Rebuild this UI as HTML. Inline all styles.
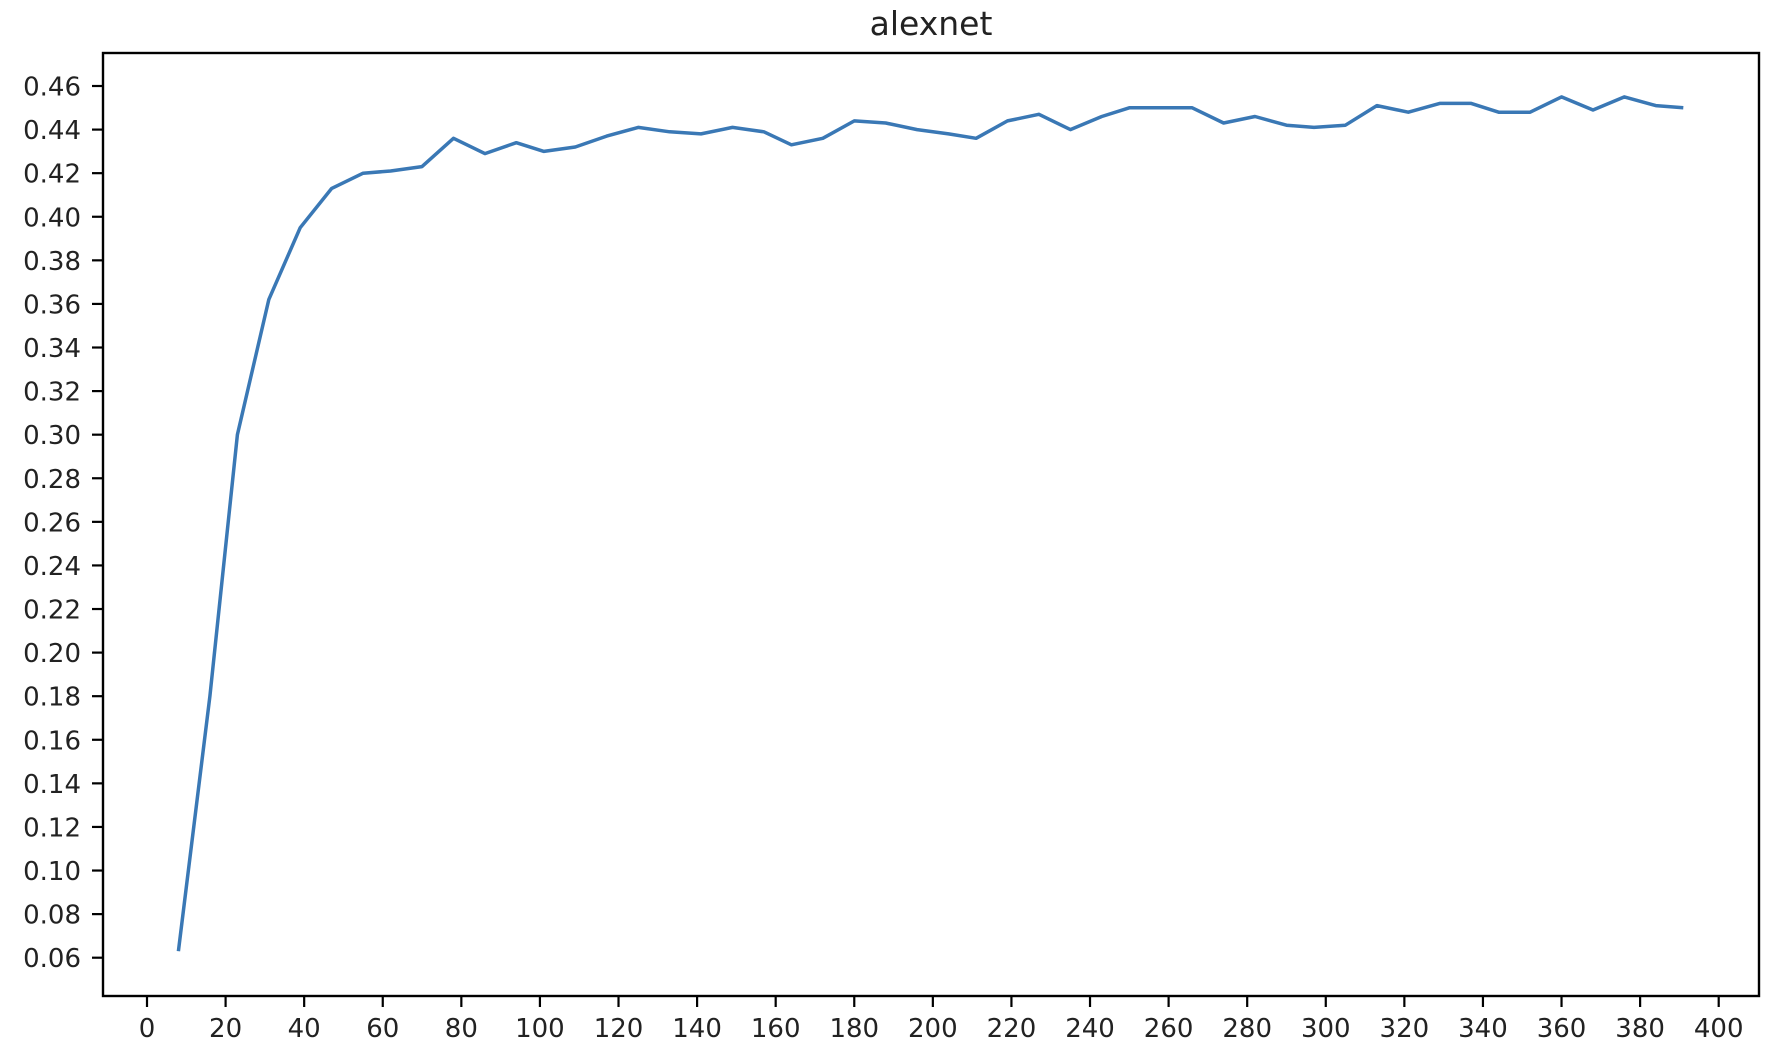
<!DOCTYPE html>
<html><head><meta charset="utf-8"><style>
html,body{margin:0;padding:0;background:#fff;}
svg{display:block;font-family:"DejaVu Sans","Liberation Sans",sans-serif;}
</style></head><body>
<svg id="chart" width="1776" height="1052" viewBox="0 0 1776 1052" xmlns="http://www.w3.org/2000/svg">
<rect x="0" y="0" width="1776" height="1052" fill="#fff"/>
<text x="931" y="35" text-anchor="middle" font-size="33" fill="#222">alexnet</text>
<g id="yticks"></g>
<g id="xticks"></g>
<g id="series"></g>
<rect x="103" y="53" width="1656" height="943" fill="none" stroke="#000" stroke-width="2.4"/>
</svg>
<script>
const xValues = [8,16,23,31,39,47,55,62,70,78,86,94,101,109,117,125,133,141,149,157,164,172,180,188,196,204,211,219,227,235,243,250,258,266,274,282,290,297,305,313,321,329,337,344,352,360,368,376,384,391];
const accuracy = [0.063,0.18,0.30,0.362,0.395,0.413,0.420,0.421,0.423,0.436,0.429,0.434,0.430,0.432,0.437,0.441,0.439,0.438,0.441,0.439,0.433,0.436,0.444,0.443,0.440,0.438,0.436,0.444,0.447,0.440,0.446,0.450,0.450,0.450,0.443,0.446,0.442,0.441,0.442,0.451,0.448,0.452,0.452,0.448,0.448,0.455,0.449,0.455,0.451,0.450];
const yTickValues = [0.06,0.08,0.10,0.12,0.14,0.16,0.18,0.20,0.22,0.24,0.26,0.28,0.30,0.32,0.34,0.36,0.38,0.40,0.42,0.44,0.46];
const xTickValues = [0,20,40,60,80,100,120,140,160,180,200,220,240,260,280,300,320,340,360,380,400];

const NS = "http://www.w3.org/2000/svg";
function sx(v){ return 147 + (v - 0) * (1718.7 - 147) / 400; }
function sy(v){ return 957.7 - (v - 0.06) * (957.7 - 86) / 0.40; }
function mk(tag, attrs, parent){ const e = document.createElementNS(NS, tag); for (const k in attrs) e.setAttribute(k, attrs[k]); parent.appendChild(e); return e; }

const yg = document.getElementById('yticks');
yTickValues.forEach(v => {
  const y = sy(v);
  const t = mk('line', {x1:92, x2:103, y1:y, y2:y, stroke:'#000', 'stroke-width':2.2}, yg);
  
  
  const l = mk('text', {x:81, y:y+9.5, 'text-anchor':'end', 'font-size':26, fill:'#222'}, yg);
  l.textContent = v.toFixed(2);
  
  
});
const xg = document.getElementById('xticks');
xTickValues.forEach(v => {
  const x = sx(v);
  const t = mk('line', {x1:x, x2:x, y1:996, y2:1007, stroke:'#000', 'stroke-width':2.2}, xg);
  
  
  const l = mk('text', {x:x, y:1037, 'text-anchor':'middle', 'font-size':26, fill:'#222'}, xg);
  l.textContent = String(v);
  
  
});
const sg = document.getElementById('series');
const pts = xValues.map((x, i) => sx(x).toFixed(1) + ',' + sy(accuracy[i]).toFixed(1)).join(' ');
const pl = mk('polyline', {points: pts, fill:'none', stroke:'#3a78b5', 'stroke-width':3.5, 'stroke-linejoin':'round'}, sg);


</script>
</body></html>
